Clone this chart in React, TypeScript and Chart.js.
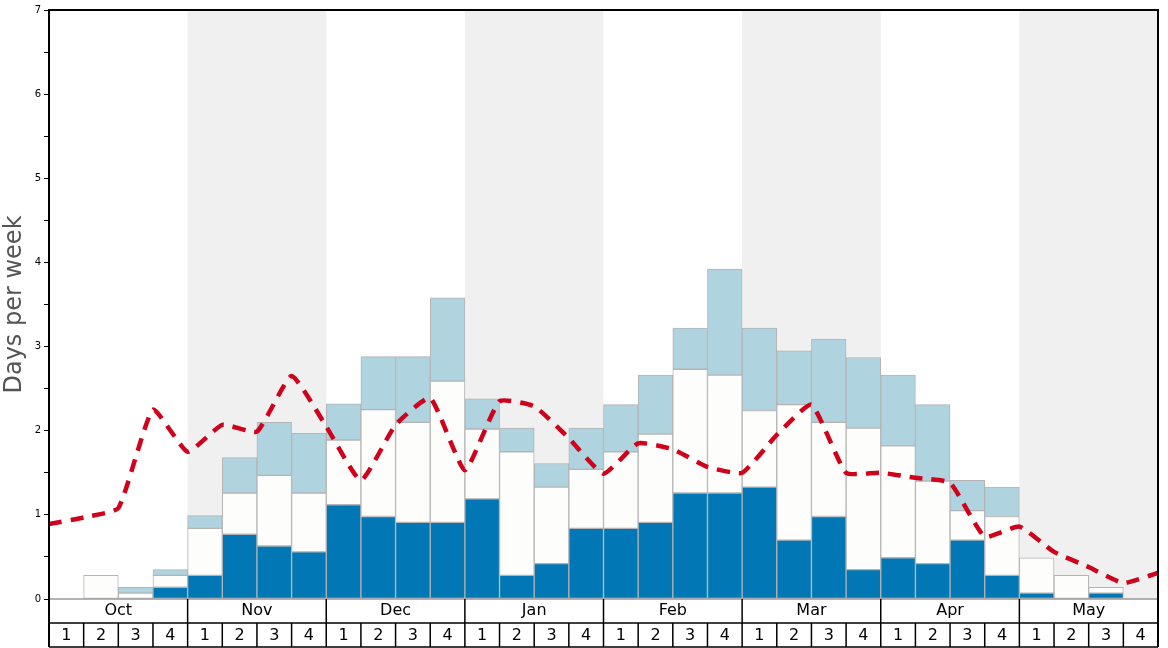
import React, { useEffect, useRef } from "react";
import { Chart, registerables } from "chart.js";

Chart.register(...registerables);

const months = ["Oct", "Nov", "Dec", "Jan", "Feb", "Mar", "Apr", "May"];
const weeks = ["1", "2", "3", "4"];
const categories = months.flatMap((m) => weeks.map((w) => `${m} ${w}`));

// stacked segment heights (days per week)
const darkVals = [
  0, 0, 0, 0.14,
  0.28, 0.77, 0.63, 0.56,
  1.12, 0.98, 0.91, 0.91,
  1.19, 0.28, 0.42, 0.84,
  0.84, 0.91, 1.26, 1.26,
  1.33, 0.70, 0.98, 0.35,
  0.49, 0.42, 0.70, 0.28,
  0.07, 0, 0.07, 0,
];
const whiteVals = [
  0, 0.28, 0.07, 0.14,
  0.56, 0.49, 0.84, 0.70,
  0.77, 1.27, 1.19, 1.68,
  0.83, 1.47, 0.91, 0.70,
  0.91, 1.05, 1.47, 1.40,
  0.91, 1.61, 1.12, 1.68,
  1.33, 0.98, 0.35, 0.70,
  0.42, 0.28, 0.07, 0,
];
const lightVals = [
  0, 0, 0.07, 0.07,
  0.15, 0.42, 0.63, 0.71,
  0.43, 0.63, 0.78, 0.99,
  0.36, 0.28, 0.28, 0.49,
  0.56, 0.70, 0.49, 1.26,
  0.98, 0.64, 0.99, 0.84,
  0.84, 0.91, 0.36, 0.35,
  0, 0, 0, 0,
];
// dashed line values at week boundaries (33 points)
const lineVals = [
  0.89, 0.97, 1.08, 2.25, 1.75, 2.07, 1.99, 2.65, 2.05, 1.41, 2.07, 2.39,
  1.53, 2.35, 2.29, 1.91, 1.49, 1.85, 1.78, 1.57, 1.50, 1.95, 2.31, 1.50,
  1.50, 1.44, 1.38, 0.74, 0.86, 0.56, 0.38, 0.19, 0.31,
];
const yTitle = "Days per week";

const FONT = "DejaVu Sans";

const decorPlugin = {
  id: "decor",
  beforeDatasetsDraw(chart: any) {
    const { ctx, chartArea } = chart;
    const xl = chart.scales.xl;
    ctx.save();
    ctx.fillStyle = "#f0f0f0";
    months.forEach((_, m) => {
      if (m % 2 === 1) {
        const x0 = xl.getPixelForValue(m * 4);
        const x1 = xl.getPixelForValue(m * 4 + 4);
        ctx.fillRect(x0, chartArea.top, x1 - x0, chartArea.bottom - chartArea.top);
      }
    });
    ctx.restore();
  },
  afterDraw(chart: any) {
    const { ctx, chartArea } = chart;
    const xl = chart.scales.xl;
    const top = chartArea.top;
    const bot = chartArea.bottom;
    const row1 = bot + 24;
    const row2 = bot + 48;
    const L = chartArea.left;
    const R = chartArea.right;
    ctx.save();
    // zero line
    ctx.strokeStyle = "#999";
    ctx.lineWidth = 1.5;
    ctx.beginPath();
    ctx.moveTo(L, bot);
    ctx.lineTo(R, bot);
    ctx.stroke();
    // frame
    ctx.strokeStyle = "#000";
    ctx.lineWidth = 2;
    ctx.beginPath();
    ctx.moveTo(L, row2);
    ctx.lineTo(L, top);
    ctx.lineTo(R, top);
    ctx.lineTo(R, row2);
    ctx.stroke();
    ctx.lineWidth = 1.5;
    ctx.beginPath();
    ctx.moveTo(L, row1);
    ctx.lineTo(R, row1);
    ctx.moveTo(L, row2);
    ctx.lineTo(R, row2);
    for (let i = 1; i < 32; i++) {
      const x = xl.getPixelForValue(i);
      ctx.moveTo(x, i % 4 === 0 ? bot : row1);
      ctx.lineTo(x, row2);
    }
    ctx.stroke();
    ctx.fillStyle = "#000";
    ctx.textAlign = "center";
    ctx.textBaseline = "middle";
    ctx.font = `16px "${FONT}"`;
    months.forEach((m, i) => {
      const xc = xl.getPixelForValue(i * 4 + 2);
      ctx.fillText(m, xc, bot + 12);
      weeks.forEach((w, j) => {
        const xw = xl.getPixelForValue(i * 4 + j + 0.5);
        ctx.fillText(w, xw, row1 + 13);
      });
    });
    ctx.restore();
  },
};

const nz = (a: number[]) => a.map((v) => (v === 0 ? null : v));

export default function App() {
  const ref = useRef<HTMLCanvasElement>(null);
  useEffect(() => {
    if (!ref.current) return;
    const barCommon = {
      type: "bar" as const,
      xAxisID: "x",
      yAxisID: "y",
      stack: "s",
      borderColor: "#b4b4b4",
      borderWidth: 1,
      borderSkipped: false,
      barPercentage: 1,
      categoryPercentage: 1,
      grouped: false,
    };
    const chart = new Chart(ref.current, {
      data: {
        labels: categories,
        datasets: [
          { ...barCommon, data: nz(darkVals), backgroundColor: "#0277b6", order: 1 } as any,
          { ...barCommon, data: nz(whiteVals), backgroundColor: "#fdfdfb", order: 1 } as any,
          { ...barCommon, data: nz(lightVals), backgroundColor: "#afd3df", order: 1 } as any,
          {
            type: "line",
            xAxisID: "xl",
            yAxisID: "y",
            stack: "line",
            data: lineVals.map((v, i) => ({ x: i, y: v })),
            borderColor: "#d0021b",
            borderWidth: 4.5,
            borderDash: [13, 9],
            pointRadius: 0,
            tension: 0.15,
            fill: false,
            order: 0,
          } as any,
        ],
      },
      options: {
        animation: false,
        responsive: false,
        maintainAspectRatio: false,
        layout: { padding: { left: 0, top: 10, right: 10, bottom: 49 } },
        plugins: { legend: { display: false }, tooltip: { enabled: false } },
        scales: {
          x: { display: false, stacked: true, offset: true },
          xl: { type: "linear", display: false, min: 0, max: 32, offset: false },
          y: {
            stacked: true,
            min: 0,
            max: 7,
            afterFit: (s: any) => {
              s.width = 49;
            },
            ticks: {
              stepSize: 0.5,
              autoSkip: false,
              color: "#000",
              padding: 3,
              font: { family: FONT, size: 10 },
              callback: (v: any) => (Number.isInteger(v) ? String(v) : ""),
            },
            grid: { drawOnChartArea: false, drawTicks: true, tickLength: 5, color: "#000" },
            border: { display: true, color: "#000", width: 2 },
            title: {
              display: true,
              text: yTitle,
              color: "#555",
              padding: 0,
              font: { family: FONT, size: 24 },
            },
          },
        },
      },
      plugins: [decorPlugin],
    } as any);
    return () => chart.destroy();
  }, []);
  return (
    <div style={{ position: "fixed", left: 0, top: 0, width: 1168, height: 648, background: "#fff" }}>
      <canvas ref={ref} width={1168} height={648} style={{ width: 1168, height: 648 }} />
    </div>
  );
}
